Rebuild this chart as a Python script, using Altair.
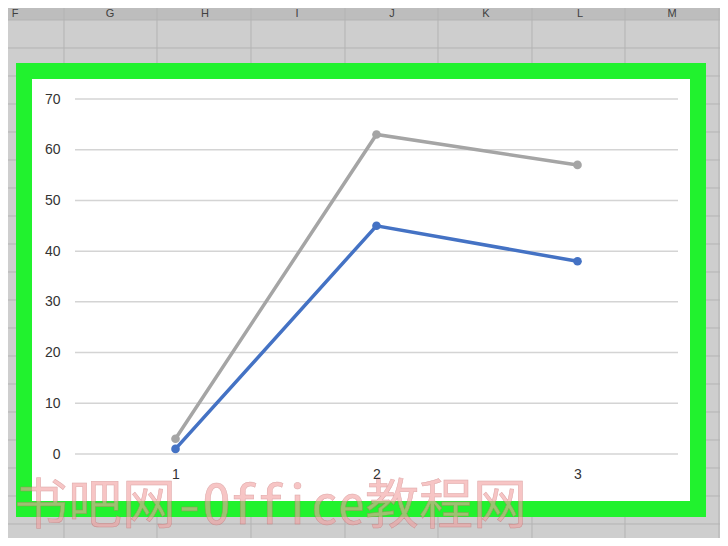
import altair as alt
import pandas as pd

# ---- data ----
categories = ["1", "2", "3"]
series_names = ["系列1", "系列2"]
blue_values = [1, 45, 38]
grey_values = [3, 63, 57]
y_ticks = [0, 10, 20, 30, 40, 50, 60, 70]
col_letters = ["F", "G", "H", "I", "J", "K", "L", "M"]
watermark_text = "书吧网-Office教程网"

rows = []
for c, b, g in zip(categories, blue_values, grey_values):
    rows.append({"cat": c, "series": series_names[0], "value": b})
    rows.append({"cat": c, "series": series_names[1], "value": g})
df = pd.DataFrame(rows)

W, H = 603, 355
one = pd.DataFrame({"k": [0]})

x_scale = alt.Scale(type="point", padding=0.5, domain=categories)
y_scale = alt.Scale(domain=[0, 70], nice=False, zero=True)
y_axis = alt.Axis(values=y_ticks, domain=False, ticks=False, grid=False, title=None,
                  labelPadding=15, labelFontSize=14, labelColor="#333333",
                  labelFont="Liberation Sans", zindex=1)
x_axis = alt.Axis(labelAngle=0, domain=False, ticks=False, grid=False, title=None,
                  labelPadding=13, labelFontSize=14, labelColor="#333333",
                  labelFont="Liberation Sans", zindex=1)

# ---- spreadsheet backdrop (decoration) ----
layers = []
header = alt.Chart(one).mark_rect(color="#bdbdbd").encode(
    x=alt.value(-80), x2=alt.value(660), y=alt.value(-100), y2=alt.value(-79))
layers.append(header)
col_x = [-11, 82, 176, 270, 363, 457, 550, 644]
for cx in col_x:
    layers.append(alt.Chart(one).mark_rule(color="#b3b3b3", strokeWidth=1).encode(
        x=alt.value(cx), y=alt.value(-100), y2=alt.value(460)))
for k in range(20):
    ry = 20 + 28 * k - 99
    layers.append(alt.Chart(one).mark_rule(color="#b3b3b3", strokeWidth=1).encode(
        x=alt.value(-80), x2=alt.value(660), y=alt.value(ry)))
letter_x = [15, 110, 205, 297, 392, 486, 580, 672]
for lx, letter in zip(letter_x, col_letters):
    layers.append(alt.Chart(one).mark_text(font="Liberation Sans", fontSize=11,
                                           color="#404040", baseline="middle").encode(
        x=alt.value(lx - 75), y=alt.value(-85), text=alt.value(letter)))

# ---- chart frame: white panel with thick green border ----
frame = alt.Chart(one).mark_rect(fill="white", stroke="#21f22e", strokeWidth=16).encode(
    x=alt.value(-51), x2=alt.value(623), y=alt.value(-28), y2=alt.value(410))
layers.append(frame)

# ---- gridlines ----
grid = alt.Chart(pd.DataFrame({"value": y_ticks})).mark_rule(
    color="#d4d4d4", strokeWidth=1.5).encode(
    y=alt.Y("value:Q", scale=y_scale, axis=y_axis),
    x=alt.value(0), x2=alt.value(W))
layers.append(grid)

# ---- data lines ----
lines = alt.Chart(df).mark_line(
    strokeWidth=3.5,
    point=alt.OverlayMarkDef(filled=True, size=75)).encode(
    x=alt.X("cat:O", scale=x_scale, axis=x_axis, sort=categories),
    y=alt.Y("value:Q", scale=y_scale, axis=y_axis),
    color=alt.Color("series:N", scale=alt.Scale(domain=series_names,
                                                range=["#4472c4", "#a5a5a5"]),
                    legend=None),
    detail="series:N")
layers.append(lines)

# ---- watermark ----
wm = alt.Chart(one).mark_text(font="Noto Sans Mono CJK SC", fontSize=54,
                              fontWeight=300,
                              fill="#f2a0a0", stroke="#c86a6a", strokeWidth=0.5,
                              opacity=0.6, align="left", baseline="middle").encode(
    x=alt.value(-61), y=alt.value(409), text=alt.value(watermark_text))
layers.append(wm)

chart = alt.layer(*layers).properties(
    width=W, height=H,
    autosize=alt.AutoSizeParams(type="none"),
    padding={"left": 67, "top": 91, "right": 42, "bottom": 84},
    background="#cecece",
).configure_view(stroke=None)

chart.save("out.html", embed_options={"renderer": "svg", "actions": False})
